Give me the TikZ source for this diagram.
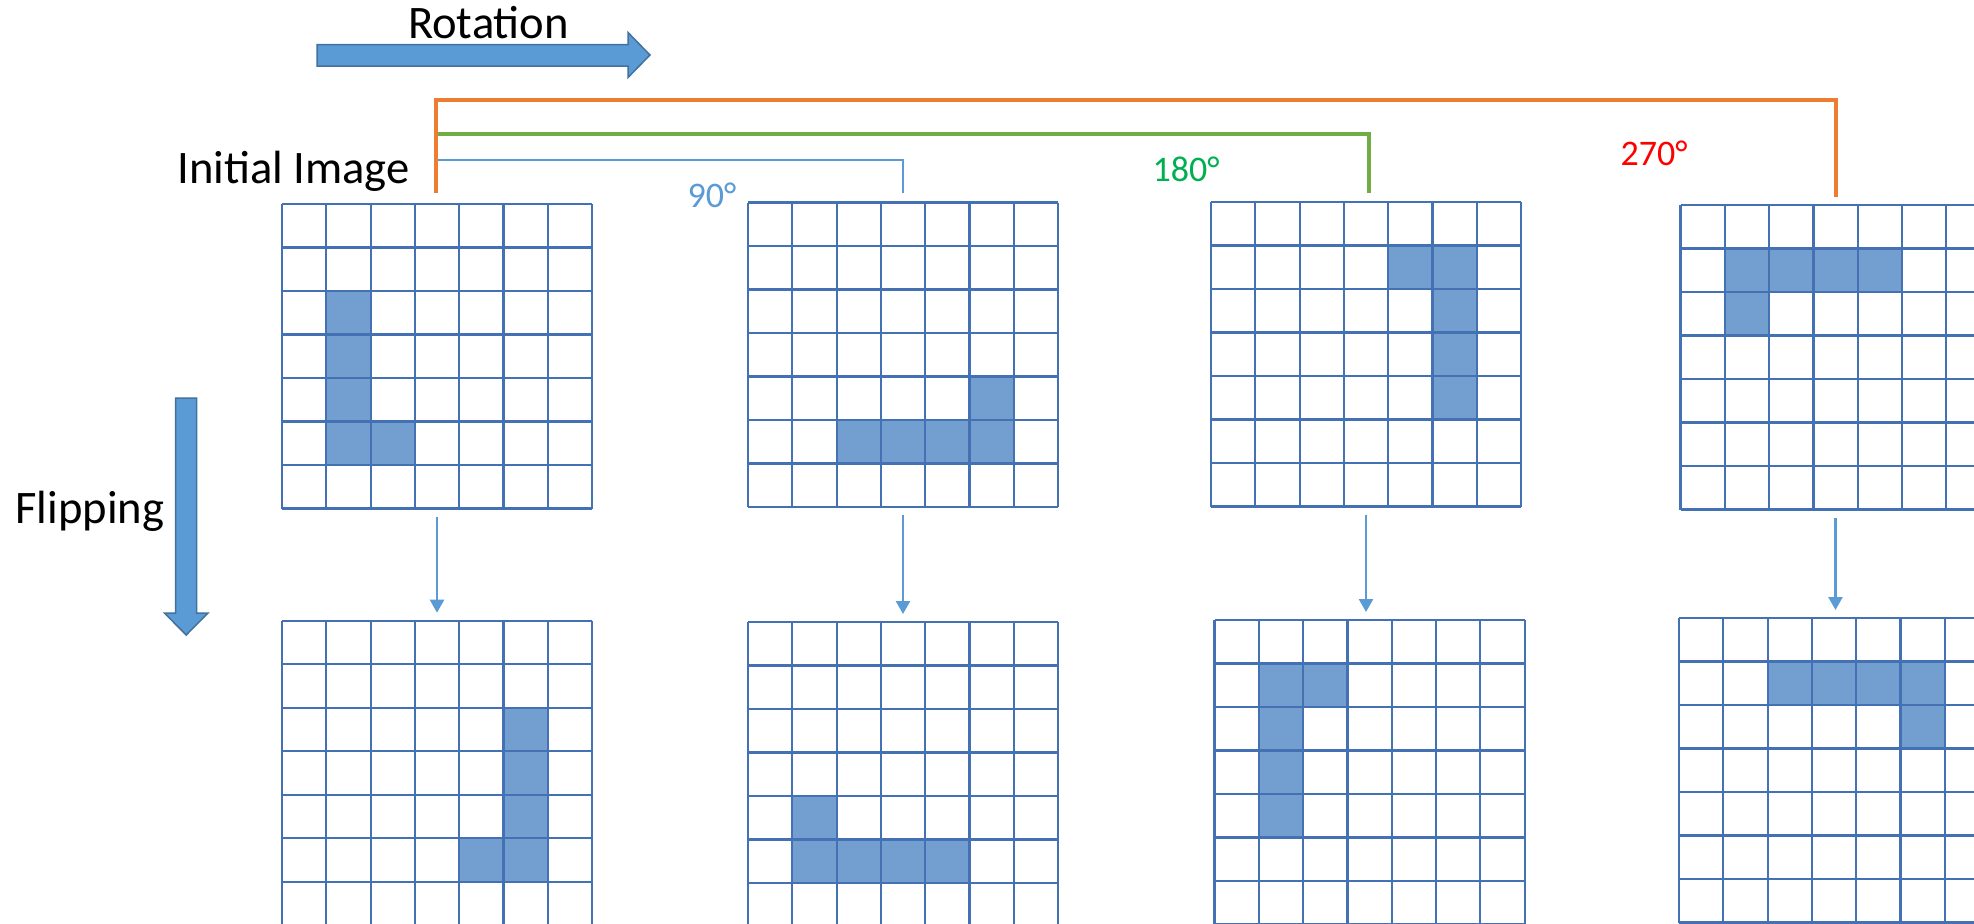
\documentclass[tikz,border=0pt]{standalone}
\usepackage{fontspec}
\setmainfont{Carlito}
\usetikzlibrary{arrows.meta}
\definecolor{offblue}{HTML}{5B9BD5}
\definecolor{arrowedge}{HTML}{41719C}
\definecolor{offorange}{HTML}{ED7D31}
\definecolor{offgreen}{HTML}{70AD47}
\definecolor{txtgreen}{HTML}{00B050}
\definecolor{txtred}{HTML}{FF0000}
\definecolor{gridcol}{HTML}{4470B4}
\definecolor{cellcol}{HTML}{729FCF}
\tikzset{
  bigtxt/.style={font=\fontsize{46.6}{56}\selectfont, anchor=base, inner sep=0pt},
  degtxt/.style={font=\fontsize{36}{44}\selectfont, anchor=base, inner sep=0pt},
  gridline/.style={draw=gridcol, line width=2.2pt},
  cellfill/.style={fill=cellcol},
  bigarrow/.style={fill=offblue, draw=arrowedge, line width=1.5pt, line join=miter},
  flipconn/.style={draw=offblue, line width=2.4pt, -{Triangle[width=14pt,length=13pt]}, shorten <=8pt, shorten >=8pt},
  orangebr/.style={draw=offorange, line width=4pt, line join=miter},
  greenbr/.style={draw=offgreen, line width=3.4pt, line join=miter},
  bluebr/.style={draw=offblue, line width=1.3pt, line join=miter}
}
\newcommand\mygrid[4]{%
  \begin{scope}[shift={(#2,#3)}]
    \foreach \c/\r in {#4} \fill[cellfill] (\c*44.3,\r*43.5) rectangle ++(44.3,43.5);
    \foreach \i in {0,...,7} {
      \draw[gridline] (\i*44.3,0) -- (\i*44.3,304.5);
      \draw[gridline] (0,\i*43.5) -- (310.1,\i*43.5);
    }
    \coordinate (#1n) at (155,0);
    \coordinate (#1s) at (155,304.5);
  \end{scope}}
\begin{document}
\begin{tikzpicture}[x=1pt,y=-1pt]
\useasboundingbox (0,0) rectangle (1974,924);
\clip (0,0) rectangle (1974,924);
\fill[white] (0,0) rectangle (1974,924);

% grids
\mygrid{g1}{282}{204}{1/2,1/3,1/4,1/5,2/5}
\mygrid{g2}{748}{202.5}{2/5,3/5,4/5,5/5,5/4}
\mygrid{g3}{1211}{202}{4/1,5/1,5/2,5/3,5/4}
\mygrid{g4}{1680.5}{205}{1/1,2/1,3/1,4/1,1/2}
\mygrid{g5}{282}{620.7}{5/2,5/3,5/4,5/5,4/5}
\mygrid{g6}{748}{622}{1/4,1/5,2/5,3/5,4/5}
\mygrid{g7}{1214.5}{620}{1/1,2/1,1/2,1/3,1/4}
\mygrid{g8}{1679}{618}{2/1,3/1,4/1,5/1,5/2}

% labels
\node[bigtxt] (rot) at (488.5,38) {Rotation};
\node[bigtxt] (init) at (293.5,183) {Initial Image};
\node[bigtxt] (flip) at (90,523) {Flipping};
\node[degtxt, text=offblue] (d90) at (712,207) {90°};
\node[degtxt, text=txtgreen] (d180) at (1186,181) {180°};
\node[degtxt, text=txtred] (d270) at (1654,165) {270°};

% big arrows
\path[bigarrow] (317,44.5) -- (628,44.5) -- (628,32.5) -- (650,55) -- (628,77.5) -- (628,66) -- (317,66) -- cycle;
\path[bigarrow] (175.7,398) -- (196.7,398) -- (196.7,613) -- (208,613) -- (186.2,635) -- (164.4,613) -- (175.7,613) -- cycle;

% rotation brackets
\coordinate (b1) at (435.6,193);
\coordinate (b2) at (903,193);
\coordinate (b3) at (1369,193);
\coordinate (b4) at (1835.6,197);
\draw[bluebr] (437.5,160) -| (b2);
\draw[greenbr] (435.6,134) -| (b3);
\draw[orangebr] (b1) |- (1835.6,100) -- (b4);

% flipping connectors
\draw[flipconn] (g1s) -- (g1s |- g5n);
\draw[flipconn] (g2s) -- (g2s |- g6n);
\draw[flipconn] (g3s) -- (g3s |- g7n);
\draw[flipconn] (g4s) -- (g4s |- g8n);
\end{tikzpicture}
\end{document}
